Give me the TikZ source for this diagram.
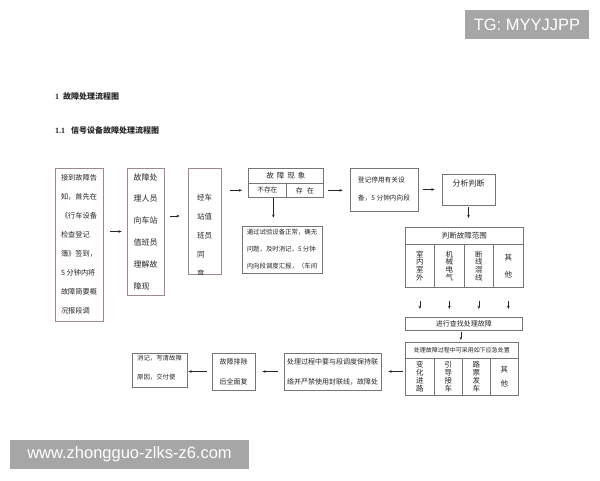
\documentclass[tikz,border=0pt]{standalone}
\usepackage{fontspec}
\setmainfont{Liberation Serif}
\newfontfamily\cjk{Noto Sans CJK SC}
\newfontfamily\wmfont{Liberation Sans}
\usetikzlibrary{arrows.meta}

\definecolor{boxgray}{HTML}{767676}
\definecolor{boxrose}{HTML}{A08890}
\definecolor{wmgray}{HTML}{A6A6A6}
\newcommand{\cfs}[2]{\fontsize{#1}{#2}\selectfont}

\tikzset{
  box/.style={draw=boxgray, line width=0.7pt, inner sep=0pt, align=left, text=black!85},
  rosebox/.style={box, draw=boxrose},
  cell/.style={box, anchor=north west, align=center},
  head/.style={anchor=west, inner sep=0pt, font=\rmfamily\bfseries\cfs{8}{8}, text=black!85},
  go/.style={-{Stealth[length=3.2pt,width=2.6pt]}, line width=0.6pt, black!85},
  watermark/.style={fill=wmgray, text=white, inner sep=0pt, font=\wmfont\cfs{16.5}{16.5}},
}

\begin{document}
\begin{tikzpicture}[x=1pt,y=-1pt]
  \fill[white] (0,0) rectangle (600,480);
  \useasboundingbox (0,0) rectangle (600,480);

  % headings
  \node[head] (h1) at (55,96) {1\hspace{4pt}{\cjk 故障处理流程图}};
  \node[head] (h2) at (55,130) {1.1\hspace{6pt}{\cjk 信号设备故障处理流程图}};

  % first row
  \node[rosebox, minimum width=48pt, minimum height=153pt, font=\cjk\cfs{7.2}{19}]
    (report) at (79,244.5)
    {接到故障告\\知，首先在\\《行车设备\\检查登记\\簿》签到，\\5 分钟内将\\故障简要概\\况报段调};
  \node[rosebox, minimum width=37pt, minimum height=127pt, font=\cjk\cfs{8}{21.8}]
    (staff) at (145.5,231.5)
    {故障处\\理人员\\向车站\\值班员\\理解故\\障现};
  \node[rosebox, minimum width=33pt, minimum height=106pt] (duty) at (204.5,221) {};
  \begin{scope}
    \clip (duty.north west) rectangle (duty.south east);
    \node[inner sep=0pt, align=left, text=black!85, font=\cjk\cfs{7.5}{19}]
      (dutytxt) at (204.5,236) {经车\\站值\\班员\\同\\意};
  \end{scope}

  % fault phenomenon
  \node[cell, minimum width=75pt, minimum height=15pt, font=\cjk\cfs{7.5}{7.5}]
    (fault) at (248,168) {故\hspace{3pt}障\hspace{3pt}现\hspace{3pt}象};
  \node[cell, minimum width=38pt, minimum height=14pt, font=\cjk\cfs{6.7}{6.7}]
    (absent) at (248,183) {不存在};
  \node[cell, minimum width=37pt, minimum height=14pt, font=\cjk\cfs{7}{7}]
    (present) at (286,183) {存\hspace{4pt}在};
  \node[box, minimum width=80pt, minimum height=47pt, font=\cjk\cfs{6.4}{17}]
    (test) at (282,249.5)
    {通过试验设备正常，确无\\问题，及时消记，5 分钟\\内向段调度汇报，（车间};

  \node[box, minimum width=68pt, minimum height=43pt, font=\cjk\cfs{6.7}{18}]
    (reg) at (384,189.5) {登记停用有关设\\备，5 分钟内向段};
  \node[box, minimum width=53pt, minimum height=31pt, text depth=13pt, font=\cjk\cfs{8}{8}]
    (anl) at (468.5,189.5) {分析判断};

  % fault range
  \node[cell, minimum width=118pt, minimum height=17pt, font=\cjk\cfs{7.5}{7.5}]
    (range) at (405,227) {判断故障范围};
  \node[cell, minimum width=29pt, minimum height=43pt, font=\cjk\cfs{7.5}{7.6}]
    (rc1) at (405,244) {室\\内\\室\\外};
  \node[cell, minimum width=30pt, minimum height=43pt, font=\cjk\cfs{7.5}{7.6}]
    (rc2) at (434,244) {机\\械\\电\\气};
  \node[cell, minimum width=29pt, minimum height=43pt, font=\cjk\cfs{7.5}{7.6}]
    (rc3) at (464,244) {断\\线\\混\\线};
  \node[cell, minimum width=30pt, minimum height=43pt, font=\cjk\cfs{7.5}{7.6}]
    (rc4) at (493,244) {其\\[9pt]他};

  \node[cell, minimum width=117pt, minimum height=13pt, font=\cjk\cfs{7}{7}]
    (search) at (405,317) {进行查找处理故障};

  % emergency measures
  \node[cell, minimum width=113pt, minimum height=16pt, font=\cjk\cfs{6}{6}]
    (emg) at (405,342) {处理故障过程中可采用如下应急处置};
  \node[cell, minimum width=29pt, minimum height=37pt, font=\cjk\cfs{7.5}{8}]
    (ec1) at (405,358) {变\\化\\进\\路};
  \node[cell, minimum width=28pt, minimum height=37pt, font=\cjk\cfs{7.5}{8}]
    (ec2) at (434,358) {引\\导\\接\\车};
  \node[cell, minimum width=28pt, minimum height=37pt, font=\cjk\cfs{7.5}{8}]
    (ec3) at (462,358) {路\\票\\发\\车};
  \node[cell, minimum width=28pt, minimum height=37pt, font=\cjk\cfs{7.5}{8}]
    (ec4) at (490,358) {其\\[6pt]他};

  % bottom row
  \node[box, minimum width=97pt, minimum height=37pt, font=\cjk\cfs{7}{20}]
    (proc) at (332.5,371.5) {处理过程中要与段调度保持联\\络并严禁使用封联线，故障处};
  \node[box, minimum width=43pt, minimum height=37pt, font=\cjk\cfs{7}{20}]
    (rec) at (233.5,371.5) {故障排除\\后全面复};
  \node[box, minimum width=55pt, minimum height=34pt, text depth=6pt, font=\cjk\cfs{6.4}{19}]
    (cancel) at (159.5,370) {消记，写清故障\\原因，交付使};

  % connectors
  \draw[go, shorten <=7pt, shorten >=5pt] (report.east |- staff.west) -- (staff.west);
  \draw[go, shorten <=6pt, shorten >=8pt] ([yshift=5pt]staff.east |- duty.west) -- ([yshift=5pt]duty.west);
  \draw[go, shorten <=9pt, shorten >=6pt] (duty.east |- absent.west) -- (absent.west);
  \draw[go, shorten >=8pt] ([xshift=6pt]absent.south) -- ([xshift=6pt]absent.south |- test.north);
  \draw[go, shorten <=4pt, shorten >=7pt] (present.east) -- (present.east -| reg.west);
  \draw[go, shorten <=5pt, shorten >=7pt] (reg.east) -- (anl.west);
  \draw[go, shorten <=2pt, shorten >=9pt] (anl.south) -- (anl.south |- range.north);
  \foreach \c in {rc1,rc2,rc3,rc4}
    \draw[go, shorten <=13pt, shorten >=8pt] (\c.south) -- (\c.south |- search.north);
  \draw[go, shorten <=1pt, shorten >=2pt] ([xshift=-3pt]search.south) -- ([xshift=-3pt]search.south |- emg.north);
  \draw[go, shorten <=2pt, shorten >=7pt] (ec1.west |- proc.east) -- (proc.east);
  \draw[go, shorten <=6pt, shorten >=7pt] (proc.west) -- (rec.east);
  \draw[go, shorten <=5pt, shorten >=1pt] (rec.west) -- (rec.west -| cancel.east);

  % watermarks
  \node[watermark, minimum width=124pt, minimum height=29pt] (tg) at (527,24.5) {TG: MYYJJPP};
  \node[watermark, minimum width=239pt, minimum height=29pt] (site) at (129.5,454.5) {www.zhongguo-zlks-z6.com};
\end{tikzpicture}
\end{document}
